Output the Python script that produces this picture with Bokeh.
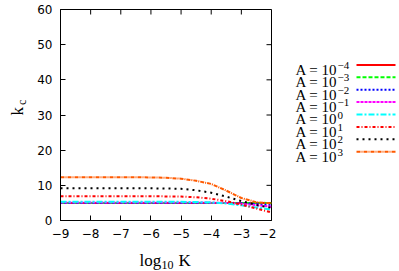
import math
from bokeh.plotting import figure
from bokeh.layouts import row, column
from bokeh.models import LinearAxis, FixedTicker, Range1d
from bokeh.core.properties import value
from bokeh.embed import file_html
from bokeh.resources import INLINE

# ---- data ----
log10_K = [-9.0, -8.5, -8.0, -7.5, -7.0, -6.5, -6.0, -5.5, -5.0, -4.5, -4.0, -3.5, -3.0, -2.5, -2.0]
kc_A_m4 = [5.0, 5.0, 5.0, 5.0, 5.0, 5.0, 5.0, 5.0, 5.0, 5.0, 5.0, 5.0, 5.0, 5.0, 5.0]
kc_A_m3 = [5.0, 5.0, 5.0, 5.0, 5.0, 5.0, 5.0, 5.0, 5.0, 5.0, 5.0, 5.0, 5.0, 5.0, 4.95]
kc_A_m2 = [5.0, 5.0, 5.0, 5.0, 5.0, 5.0, 5.0, 5.0, 5.0, 5.0, 5.0, 4.98, 4.9, 4.7, 4.4]
kc_A_m1 = [5.1, 5.1, 5.1, 5.1, 5.1, 5.1, 5.1, 5.1, 5.1, 5.1, 5.08, 5.0, 4.75, 4.35, 3.9]
kc_A_0 = [5.3, 5.3, 5.3, 5.3, 5.3, 5.3, 5.3, 5.3, 5.3, 5.25, 5.15, 4.85, 4.3, 3.7, 3.1]
kc_A_1 = [6.9, 6.9, 6.9, 6.9, 6.9, 6.9, 6.9, 6.85, 6.8, 6.6, 6.2, 5.5, 4.5, 3.4, 2.3]
kc_A_2 = [9.2, 9.2, 9.2, 9.2, 9.2, 9.2, 9.15, 9.1, 9.0, 8.6, 7.9, 6.8, 5.5, 4.4, 3.6]
kc_A_3 = [12.3, 12.3, 12.3, 12.3, 12.3, 12.3, 12.25, 12.15, 11.9, 11.3, 10.4, 8.5, 6.4, 5.2, 4.9]

series = [kc_A_m4, kc_A_m3, kc_A_m2, kc_A_m1, kc_A_0, kc_A_1, kc_A_2, kc_A_3]
exponents = ["\u22124", "\u22123", "\u22122", "\u22121", "0", "1", "2", "3"]
x_ticks = [-9, -8, -7, -6, -5, -4, -3, -2]
x_tick_labels = ["\u22129", "\u22128", "\u22127", "\u22126", "\u22125", "\u22124", "\u22123", "\u22122"]
y_ticks = [0, 10, 20, 30, 40, 50, 60]
X_MIN, X_MAX, Y_MIN, Y_MAX = -9, -2, 0, 60

# ---- styles ----
colors = ["#ff0000", "#00ff00", "#0000ff", "#ff00ff", "#00ffff", "#ff0000", "#000000", "#ff5a00"]
dashes = ["solid", "4 2", "2 2", "3 1", "6 2 2 2", "3 2 1 2", "2 4", "4 1 1 1"]
SERIF = value("Liberation Serif")

# page layout (pixels)
PAGE_W, PAGE_H = 399, 271
YLAB_W = 30
MAIN_W, MAIN_H = 246, 245
LEG_W = PAGE_W - YLAB_W - MAIN_W
XLAB_H = PAGE_H - MAIN_H

# ---- main plot ----
p = figure(width=MAIN_W, height=MAIN_H, output_backend="svg", toolbar_location=None,
           x_range=Range1d(X_MIN, X_MAX), y_range=Range1d(Y_MIN, Y_MAX),
           min_border_left=30, min_border_right=5, min_border_top=9, min_border_bottom=25,
           x_axis_type=None, y_axis_type=None)
p.grid.visible = False
p.outline_line_color = "black"
p.background_fill_color = "white"
p.border_fill_color = "white"

def style_axis(ax):
    ax.major_tick_in = 5
    ax.major_tick_out = 0
    ax.minor_tick_line_color = None
    ax.axis_line_color = "black"
    ax.major_tick_line_color = "black"
    ax.major_label_text_font = "DejaVu Sans"
    ax.major_label_text_font_size = "12px"
    ax.major_label_text_color = "black"
    ax.major_label_standoff = 8

xb = LinearAxis(ticker=FixedTicker(ticks=x_ticks),
                major_label_overrides={t: s for t, s in zip(x_ticks, x_tick_labels)})
style_axis(xb)
p.add_layout(xb, "below")
yl = LinearAxis(ticker=FixedTicker(ticks=y_ticks))
style_axis(yl)
p.add_layout(yl, "left")

# mirrored inward ticks on the top and right edges
p.ray(x=x_ticks, y=[Y_MAX] * len(x_ticks), length=5, length_units="screen",
      angle=-math.pi / 2, line_color="black", line_width=1)
p.ray(x=[X_MAX] * len(y_ticks), y=y_ticks, length=5, length_units="screen",
      angle=math.pi, line_color="black", line_width=1)

for ys, c, d in zip(series, colors, dashes):
    p.line(log10_K, ys, line_color=c, line_dash=d, line_width=2)

# text strips: x and y in page pixels relative to the strip's top-left corner
def text_fig(w, h):
    f = figure(width=w, height=h, output_backend="svg", toolbar_location=None,
               x_range=Range1d(0, w), y_range=Range1d(0, h), min_border=0,
               x_axis_type=None, y_axis_type=None)
    f.grid.visible = False
    f.outline_line_color = None
    f.background_fill_color = "white"
    f.border_fill_color = "white"
    return f

def put(f, txt, x, y, size, angle=0.0):
    f.text(x=[x], y=[f.height - y], text=[txt], text_font=SERIF, text_font_size=f"{size}px",
           text_color="black", text_align="left", text_baseline="alphabetic", angle=angle)

# ---- y axis title (rotated k_c) ----
fy = text_fig(YLAB_W, MAIN_H)
put(fy, "k", 17, 123, 17, angle=math.pi / 2)
put(fy, "c", 21, 111, 12, angle=math.pi / 2)

# ---- x axis title (log10 K), strip spans the full page width ----
fx = text_fig(PAGE_W, XLAB_H)
put(fx, "log", 139, 260 - MAIN_H, 17)
put(fx, "10", 161, 264 - MAIN_H, 12)
put(fx, "K", 178, 260 - MAIN_H, 17)

# ---- legend ----
fl = text_fig(LEG_W, MAIN_H)
lx = YLAB_W + MAIN_W
for i, (e, c, d) in enumerate(zip(exponents, colors, dashes)):
    ly = 64.3 + 14.4 * i
    fl.line([356 - lx, 395 - lx], [MAIN_H - ly, MAIN_H - ly], line_color=c, line_dash=d, line_width=2)
    put(fl, "A = 10", 295 - lx, ly + 5.7, 15)
    put(fl, e, 337 - lx, ly + 0.7, 11)

layout = column(row(fy, p, fl), fx)
open("out.html", "w").write(file_html(layout, INLINE))
